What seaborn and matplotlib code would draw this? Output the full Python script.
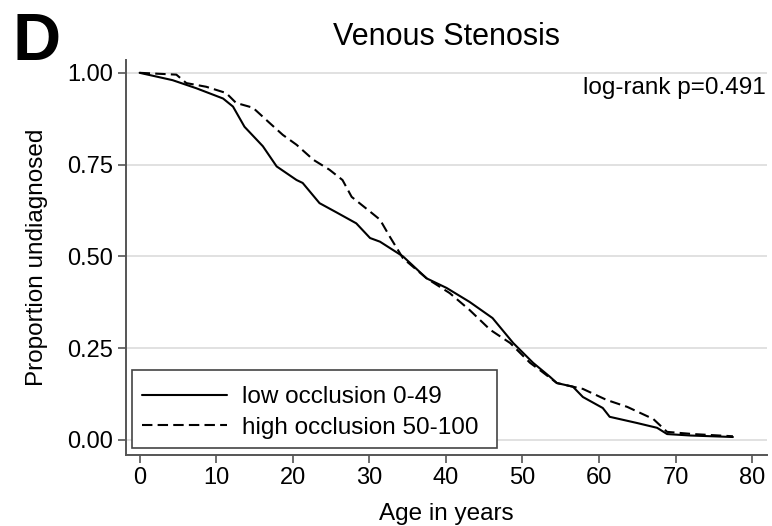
"""Kaplan-Meier style curves: venous stenosis by occlusion group."""

import matplotlib.pyplot as plt
import pandas as pd
import seaborn as sns
from matplotlib.patches import Rectangle

# Values
low_age = [0, 4.3, 7.4, 10.9, 12.2, 13.7, 16.1, 17.9, 20.5, 21.3, 23.5, 25.7, 28.3,
           30.1, 31.4, 34.4, 37.5, 40.1, 43.1, 46.1, 48.8, 51.4, 53.6, 54.5, 56.6,
           57.9, 60.5, 61.4, 65.0, 67.6, 68.9, 72.0, 77.5]
low_surv = [1.00, 0.98, 0.958, 0.93, 0.908, 0.853, 0.80, 0.745, 0.708, 0.70, 0.645,
            0.62, 0.59, 0.55, 0.54, 0.50, 0.44, 0.414, 0.376, 0.332, 0.264, 0.21,
            0.172, 0.155, 0.145, 0.117, 0.087, 0.063, 0.046, 0.033, 0.016, 0.012, 0.008]

high_age = [0, 4.8, 6.1, 8.7, 11.3, 12.6, 14.8, 17.0, 18.7, 20.5, 22.7, 24.8, 26.5,
            27.7, 30.1, 31.4, 32.7, 34.4, 37.5, 40.5, 43.1, 45.8, 48.4, 51.0, 52.3,
            54.5, 56.6, 57.9, 61.0, 63.7, 67.1, 68.9, 72.3, 77.5]
high_surv = [1.00, 0.995, 0.972, 0.962, 0.945, 0.918, 0.905, 0.863, 0.831, 0.804,
             0.763, 0.736, 0.708, 0.662, 0.622, 0.60, 0.553, 0.495, 0.44, 0.40, 0.354,
             0.30, 0.264, 0.21, 0.19, 0.155, 0.145, 0.139, 0.109, 0.09, 0.057, 0.022,
             0.016, 0.01]

groups = ["low occlusion 0-49", "high occlusion 50-100"]
x_ticks = [0, 10, 20, 30, 40, 50, 60, 70, 80]
y_ticks = [0.00, 0.25, 0.50, 0.75, 1.00]

df = pd.concat([
    pd.DataFrame({"age": low_age, "surv": low_surv, "group": groups[0]}),
    pd.DataFrame({"age": high_age, "surv": high_surv, "group": groups[1]}),
])

sns.set_style("white")
plt.rcParams["font.family"] = ["Liberation Sans", "DejaVu Sans"]
plt.rcParams["text.color"] = "black"
plt.rcParams["axes.labelcolor"] = "black"

fig = plt.figure(figsize=(7.72, 5.26), dpi=100)
ax = fig.add_axes([0.163, 0.135, 0.831, 0.751])

sns.lineplot(
    data=df, x="age", y="surv", style="group", style_order=groups,
    dashes={groups[0]: "", groups[1]: (5, 2.5)},
    color="black", linewidth=1.5, estimator=None, sort=False, ax=ax,
)

ax.set_xlim(-1.8, 82)
ax.set_ylim(-0.041, 1.035)
ax.set_xticks(x_ticks)
ax.set_yticks(y_ticks)
ax.set_yticklabels([f"{v:.2f}" for v in y_ticks])
ax.yaxis.grid(True, color="#dcdcdc", linewidth=1.2)
ax.set_axisbelow(True)

for side in ["top", "right"]:
    ax.spines[side].set_visible(False)
for side in ["left", "bottom"]:
    ax.spines[side].set_color("#555555")
    ax.spines[side].set_linewidth(1.4)
ax.tick_params(axis="both", direction="out", length=6, width=1.2, color="#555555",
               labelsize=17, labelcolor="black", bottom=True, left=True, pad=3)

ax.set_xlabel("Age in years", fontsize=17.5, labelpad=10)
ax.set_ylabel("Proportion undiagnosed", fontsize=17.5, labelpad=14)
ax.set_title("Venous Stenosis", fontsize=22, pad=11)

ax.text(0.997, 0.929, "log-rank p=0.491", transform=ax.transAxes,
        ha="right", va="center", fontsize=17.5)
fig.text(0.016, 1 - 60 / 526, "D", fontsize=48, fontweight="bold",
         va="baseline", ha="left")

# Stata-style legend box, wider than the entries
ax.add_patch(Rectangle((0.0094, 0.0177), 0.5696, 0.197, transform=ax.transAxes,
                       facecolor="white", edgecolor="#444444", linewidth=1.2,
                       zorder=4))
leg = ax.legend(loc="lower left", bbox_to_anchor=(0.0136, 0.0224), fontsize=17.5,
                frameon=False, handlelength=3.5, handletextpad=0.6,
                borderpad=0.3, labelspacing=0.35, borderaxespad=0)
leg.set_zorder(5)

fig.savefig("out.png", dpi=100)
